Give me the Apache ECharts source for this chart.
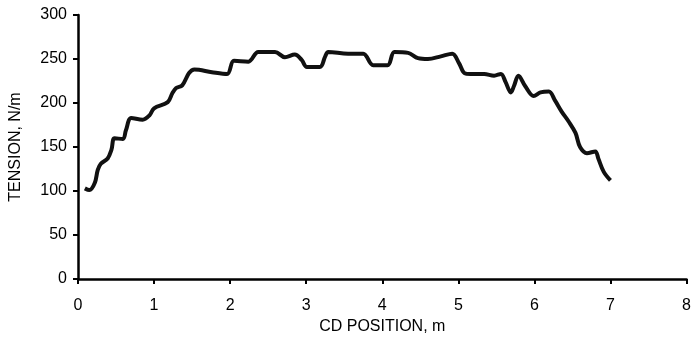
<!DOCTYPE html>
<html>
<head>
<meta charset="utf-8">
<script src="https://cdn.jsdelivr.net/npm/echarts@6/dist/echarts.min.js"></script>
<style>
  html, body { margin: 0; padding: 0; background: #fff; }
  #chart { width: 694px; height: 342px; }
</style>
</head>
<body>
<div id="chart"></div>
<script>
// CD position (m) and tension (N/m)
const position = [
  0.09, 0.15, 0.22, 0.26, 0.30, 0.39, 0.44, 0.48, 0.59, 0.63, 0.70, 0.85, 0.94, 1.00,
  1.18, 1.24, 1.29, 1.37, 1.46, 1.53, 1.76, 1.96, 2.05, 2.24, 2.37, 2.59, 2.72, 2.85,
  2.94, 3.01, 3.18, 3.25, 3.29, 3.55, 3.75, 3.88, 4.07, 4.16, 4.34, 4.47, 4.60, 4.77,
  4.92, 5.01, 5.08, 5.16, 5.34, 5.47, 5.56, 5.62, 5.69, 5.73, 5.79, 5.88, 5.99, 6.08,
  6.19, 6.27, 6.36, 6.45, 6.54, 6.60, 6.69, 6.80, 6.84, 6.91, 7.00
];
const tension = [
  103, 101, 109, 124, 131, 137, 147, 160, 159, 169, 183, 181, 186, 194,
  201, 211, 217, 220, 234, 238, 235, 233, 248, 247, 258, 258, 252, 255,
  249, 241, 241, 253, 258, 256, 256, 243, 243, 258, 257, 251, 250, 253,
  256, 245, 234, 233, 233, 231, 233, 224, 212, 219, 231, 219, 208, 212,
  213, 203, 190, 179, 166, 150, 143, 145, 137, 122, 112
];

const xTicks = { min: 0, max: 8, interval: 1 };
const yTicks = { min: 0, max: 300, interval: 50 };

const font = "Liberation Sans, Arial, sans-serif";
const axisCommon = {
  axisLine: { show: true, onZero: false, lineStyle: { color: "#000", width: 2.5 } },
  axisTick: { show: true, inside: false, length: 5, lineStyle: { color: "#000", width: 2 } },
  splitLine: { show: false },
  nameTextStyle: { color: "#000", fontSize: 16, fontFamily: font },
};

const chart = echarts.init(document.getElementById("chart"), null, { renderer: "canvas" });
chart.setOption({
  animation: false,
  backgroundColor: "#fff",
  grid: { left: 75, right: 7, top: 15, bottom: 63, containLabel: false },
  xAxis: {
    ...axisCommon,
    type: "value",
    ...xTicks,
    name: "CD POSITION, m",
    nameLocation: "middle",
    nameGap: 39,
    nameTextStyle: { ...axisCommon.nameTextStyle, verticalAlign: "top" },
    axisLabel: { color: "#000", fontSize: 16, fontFamily: font, margin: 19, verticalAlign: "top" },
  },
  yAxis: {
    ...axisCommon,
    type: "value",
    ...yTicks,
    name: "TENSION, N/m",
    nameLocation: "middle",
    nameGap: 54,
    axisLabel: { color: "#000", fontSize: 16, fontFamily: font, margin: 11 },
  },
  series: [{
    type: "line",
    data: position.map((x, i) => [x, tension[i]]),
    showSymbol: false,
    smooth: 0.35,
    lineStyle: { color: "#111", width: 4 },
  }],
});
</script>
</body>
</html>
